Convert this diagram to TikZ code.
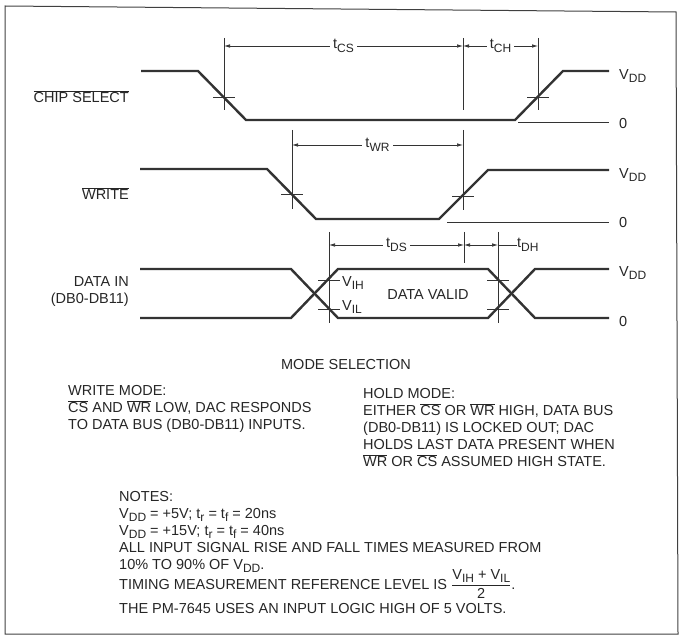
\documentclass[tikz,border=0pt]{standalone}
\usepackage{fontspec}
\setmainfont{Liberation Sans}
\usetikzlibrary{arrows.meta}
\usetikzlibrary{positioning}

\newcommand{\lo}[1]{\raisebox{-0.45ex}{\fontsize{12}{12}\selectfont #1}}
\newcommand{\ovr}[1]{$\overline{\mbox{#1}}$}

\tikzset{
  >={Latex[length=6pt,width=3.5pt]},
  wave/.style={line width=2.4pt, draw=black!80, line join=miter},
  dim/.style={line width=0.7pt, draw=black!80},
  lbl/.style={inner sep=0pt, text=black!85, font=\fontsize{14.5}{17}\selectfont},
  tlbl/.style={lbl, fill=white, inner xsep=3pt, inner ysep=1pt}
}

\begin{document}
\begin{tikzpicture}[x=1pt,y=-1pt]
\useasboundingbox (0,0) rectangle (683,639);
\draw[line width=1pt, draw=black!75] (5,6) -- (676,12) -- (678,634) -- (5,634) -- cycle;

% signal names
\node[lbl, anchor=east] (cs) at (129,97) {\ovr{CHIP SELECT}};
\node[lbl, anchor=east] (wr) at (129,194) {\ovr{WRITE}};
\node[lbl, anchor=east, align=right] (din) at (129,292) {DATA IN\\(DB0-DB11)};

% waveforms
\draw[wave] (141,71) -- (198,71) -- (246,120) -- (515,120) -- (563,71) -- (609,71);
\draw[wave] (140,169) -- (267,169) -- (316,219) -- (439,219) -- (488,170) -- (609,170);
\draw[wave] (140,269) -- (291,269) -- (338,318) -- (488,318) -- (535,269) -- (609,269);
\draw[wave] (140,318) -- (291,318) -- (338,269) -- (488,269) -- (535,318) -- (609,318);
\draw[dim] (518,122) -- (609,122) (447,222) -- (609,222);

% levels
\foreach \y/\t in {76/V\lo{DD}, 124/0, 175/V\lo{DD}, 223/0, 273/V\lo{DD}, 322/0}
  \node[lbl, anchor=west] at (619,\y) {\t};

% reference lines and ticks
\foreach \x/\a/\b in {224/38/110, 463/38/110, 538/38/110, 292/130/209, 463/130/210, 329/232/323, 464/232/263, 498/232/323}
  \draw[dim] (\x,\a) -- (\x,\b);
\foreach \x/\y in {224/97, 538/97, 292/194, 463/196, 329/280, 329/309, 498/280, 498/309}
  \draw[dim] (\x-11,\y) -- (\x+11,\y);

% timing intervals
\coordinate (cs1) at (224,46);
\coordinate (cs2) at (463,46);
\coordinate (ch2) at (538,46);
\coordinate (wr1) at (292,145);
\coordinate (wr2) at (463,145);
\coordinate (ds1) at (329,245);
\coordinate (ds2) at (464,245);
\coordinate (dh2) at (498,245);
\draw[dim, <->] (cs1) -- node[tlbl] (tcs) {t\lo{CS}} (cs2);
\draw[dim, <->] (cs2) -- node[tlbl] (tch) {t\lo{CH}} (ch2);
\draw[dim, <->] (wr1) -- node[tlbl] (twr) {t\lo{WR}} (wr2);
\draw[dim, <->] (ds1) -- node[tlbl] (tds) {t\lo{DS}} (ds2);
\draw[dim, <->] (ds2) -- (dh2);
\node[lbl, anchor=west] (tdh) at (517,245) {t\lo{DH}};
\draw[dim] (dh2) -- (tdh.west);

% data valid
\node[lbl, anchor=west] (vih) at (342,283) {V\lo{IH}};
\node[lbl, anchor=west] (vil) at (342,307) {V\lo{IL}};
\node[lbl] (valid) at (428,295) {DATA VALID};

% mode selection
\node[lbl] (mode) at (346,365) {MODE SELECTION};
\node[lbl, anchor=north west, align=left] (wmode) at (68,385)
  {WRITE MODE:\\ \ovr{CS} AND \ovr{WR} LOW, DAC RESPONDS\\ TO DATA BUS (DB0-DB11) INPUTS.};
\node[lbl, anchor=north west, align=left] (hmode) at (363,388)
  {HOLD MODE:\\ EITHER \ovr{CS} OR \ovr{WR} HIGH, DATA BUS\\ (DB0-DB11) IS LOCKED OUT; DAC\\
   HOLDS LAST DATA PRESENT WHEN\\ \ovr{WR} OR \ovr{CS} ASSUMED HIGH STATE.};

% notes
\node[lbl, anchor=north west, align=left] (notes) at (119,491)
  {NOTES:\\ V\lo{DD} = +5V; t\lo{r} = t\lo{f} = 20ns\\ V\lo{DD} = +15V; t\lo{r} = t\lo{f} = 40ns\\
   ALL INPUT SIGNAL RISE AND FALL TIMES MEASURED FROM\\ 10\% TO 90\% OF V\lo{DD}.};
\node[lbl, anchor=base west] (timing) at (119,589)
  {TIMING MEASUREMENT REFERENCE LEVEL IS $\displaystyle\frac{\mbox{V\lo{IH} + V\lo{IL}}}{\mbox{2}}$.};
\node[lbl, anchor=base west] (pm) at (119,613) {THE PM-7645 USES AN INPUT LOGIC HIGH OF 5 VOLTS.};
\end{tikzpicture}
\end{document}
